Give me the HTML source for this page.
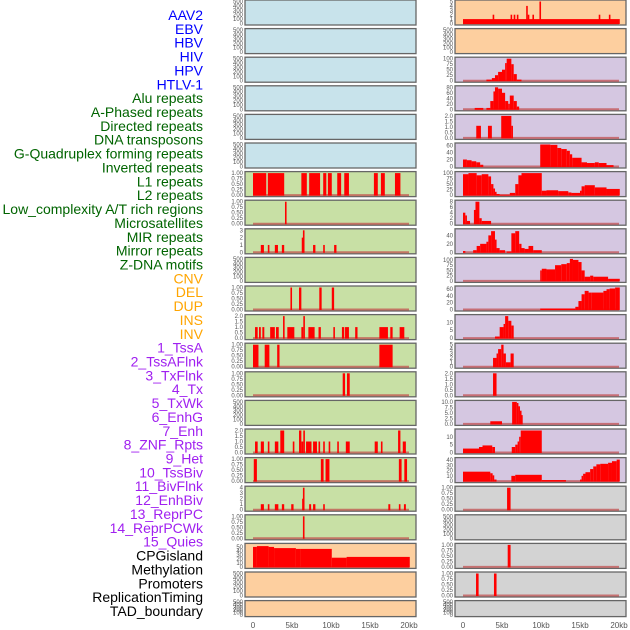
<!DOCTYPE html>
<html><head><meta charset="utf-8"><style>
html,body{margin:0;padding:0;background:#fff;}
svg{display:block;font-family:"Liberation Sans",sans-serif;}
</style></head><body>
<svg id="chart" width="630" height="630" viewBox="0 0 630 630"></svg>
<script>
// ===== data =====
const labels = ["AAV2","EBV","HBV","HIV","HPV","HTLV-1","Alu repeats","A-Phased repeats","Directed repeats","DNA transposons","G-Quadruplex forming repeats","Inverted repeats","L1 repeats","L2 repeats","Low_complexity A/T rich regions","Microsatellites","MIR repeats","Mirror repeats","Z-DNA motifs","CNV","DEL","DUP","INS","INV","1_TssA","2_TssAFlnk","3_TxFlnk","4_Tx","5_TxWk","6_EnhG","7_Enh","8_ZNF_Rpts","9_Het","10_TssBiv","11_BivFlnk","12_EnhBiv","13_ReprPC","14_ReprPCWk","15_Quies","CPGisland","Methylation","Promoters","ReplicationTiming","TAD_boundary"];
const labelColors = ["b","b","b","b","b","b","g","g","g","g","g","g","g","g","g","g","g","g","g","o","o","o","o","o","p","p","p","p","p","p","p","p","p","p","p","p","p","p","p","k","k","k","k","k"];
const xTicks = [0,5,10,15,20];
const xTickLabels = ["0","5kb","10kb","15kb","20kb"];
const leftBg = ["b","b","b","b","b","b","g","g","g","g","g","g","g","g","g","g","g","g","g","o","o","o"];
const rightBg = ["o","o","p","p","p","p","p","p","p","p","p","p","p","p","p","p","p","x","x","x","x","x"];
const leftMax = [500,500,500,500,500,500,1,1,3,500,1,2,1,1,500,2,1,4,1,55,500,500];
const rightMax = [5,500,100,80,2,63,100,8,52,105,65,14,5,2,10,14,42,1,500,1,1,500];

// bars: [start kb, end kb, value]
const L7 = [[0,1.7,1],[1.9,4.0,1],[6.2,6.9,1],[7.2,8.6,1],[9.0,9.4,1],[9.6,10.1,1],[10.8,11.3,1],[11.7,12.3,1],[15.5,16.0,1],[16.4,16.9,1],[18.2,18.9,1]];
const L8 = [[4.1,4.3,1]];
const L9 = [[1.0,1.4,1],[1.9,2.1,1],[2.8,3.2,1],[3.7,4.0,1],[6.25,6.4,2],[6.4,6.6,3],[7.7,8.0,1],[9.0,9.15,1],[10.4,10.7,1]];
const L11 = [[4.8,5.0,1],[5.9,6.2,1],[8.5,8.8,1],[10.1,10.4,1]];
const L12 = [[0.26,0.6,1],[0.77,1.0,1],[1.2,1.45,1],[2.2,2.8,1],[2.95,3.3,1],[3.85,4.0,2],[4.4,5.3,1],[6.2,6.45,1],[6.45,6.6,2],[7.1,7.9,1],[8.4,8.7,1],[10.3,10.5,1],[11.4,11.7,1],[11.8,12.3,1],[13.1,13.4,1],[16.2,17.3,1],[17.6,17.9,1],[18.8,19.4,1]];
const L13 = [[0,0.7,1],[1.5,2.1,1],[3.1,3.4,1],[16.2,17.9,1]];
const L14 = [[11.5,11.8,1],[12.05,12.4,1]];
const L16 = [[0.26,0.6,1],[1.0,1.4,1],[1.9,2.1,1],[2.8,3.25,1],[3.5,4.0,2],[5.1,5.3,1],[5.9,6.2,2],[6.2,6.45,1],[6.45,6.6,2],[6.8,7.5,1],[7.7,8.2,1],[8.4,8.6,1],[9.0,9.2,1],[9.7,9.9,1],[10.8,11.0,1],[11.9,12.4,1],[15.6,16.0,1],[16.4,16.6,1],[18.6,18.9,2],[19.2,19.6,1]];
const L17 = [[0.1,0.5,1],[8.7,9.05,1],[9.3,9.8,1],[18.7,19.05,1],[19.4,19.75,1]];
const L18 = [[1.0,1.4,1],[1.9,2.1,1],[2.8,3.25,1],[3.7,4.0,1],[4.9,5.2,1],[6.3,6.4,2],[6.4,6.6,4],[7.2,7.45,1],[7.7,8.0,1],[9.0,9.15,1],[17.35,17.6,1],[18.7,18.9,1],[19.35,19.6,1]];
const L19 = [[6.4,6.6,1]];
const L20 = [[0,0.5,50],[0.5,2.0,52],[2.0,2.7,50],[2.7,5.5,47],[5.5,6.1,45],[6.1,10.1,45],[10.1,12.0,23],[12.0,20.1,25]];

const R1 = [[0,20.1,1],[3.8,4.0,2],[6.1,6.3,2],[6.5,6.7,2],[6.9,7.1,2],[8.1,8.3,4],[8.3,8.5,2],[8.9,9.1,2],[9.8,10.0,5],[17.4,17.6,2],[18.7,18.9,2]];
const R3 = [[3.0,3.7,5],[3.7,4.1,12],[4.1,4.5,25],[4.5,5.0,40],[5.0,5.4,50],[5.4,5.6,80],[5.6,6.2,100],[6.2,6.5,75],[6.5,6.9,30],[6.9,7.5,5]];
const R4 = [[1.5,2.6,5],[3.0,3.5,5],[3.5,3.9,30],[3.9,4.1,65],[4.1,4.5,80],[4.5,5.0,75],[5.0,5.4,60],[5.4,5.8,30],[5.8,6.0,20],[6.0,6.5,50],[6.5,6.9,30],[6.9,7.2,10]];
const R5 = [[1.7,2.3,1.1],[3.2,3.7,1.1],[4.9,6.2,2],[6.2,6.4,1.1]];
const R6 = [[0,0.5,20],[0.5,1.1,18],[1.1,1.7,15],[1.7,2.2,12],[2.2,2.6,5],[9.9,11.2,63],[11.2,12.1,62],[12.1,12.6,53],[12.6,13.3,50],[13.3,13.7,45],[13.7,14.0,35],[14.0,15.2,25],[15.2,15.9,12],[15.9,16.9,10],[16.9,17.4,12],[17.4,18.4,10],[18.4,19.3,4]];
const R7 = [[0,0.7,95],[0.7,1.75,100],[1.75,2.4,90],[2.4,3.25,95],[3.25,3.6,85],[3.6,3.9,50],[3.9,4.1,30],[4.1,4.3,15],[4.3,4.7,5],[4.7,6.0,2],[6.0,6.7,10],[6.7,7.1,50],[7.1,7.5,90],[7.5,10.1,100],[10.1,10.7,20],[10.7,12.2,22],[12.2,13.5,18],[13.5,13.9,12],[13.9,15.0,10],[15.0,15.2,20],[15.2,15.6,40],[15.6,16.9,45],[16.9,18.4,35],[18.4,20.1,28]];
const R8 = [[0,0.3,4],[0.3,0.5,3],[0.5,0.9,1],[1.4,1.6,5],[1.6,2.1,8],[2.1,2.4,2],[2.4,3.6,1]];
const R9 = [[0,0.3,3],[1.3,1.75,5],[1.75,2.2,15],[2.2,3.0,20],[3.0,3.25,25],[3.25,3.6,40],[3.6,4.1,50],[4.1,4.3,30],[4.3,4.7,10],[4.7,5.4,5],[5.6,6.2,2],[6.2,6.7,45],[6.7,7.2,50],[7.2,7.5,20],[7.5,7.9,10],[7.9,8.4,8],[8.4,9.0,15],[9.0,10.1,5]];
const R10 = [[9.9,10.1,50],[10.1,10.7,58],[10.7,11.8,55],[11.8,12.6,75],[12.6,13.3,80],[13.3,13.7,85],[13.7,14.1,105],[14.1,14.8,100],[14.8,15.2,90],[15.2,15.6,50],[15.6,16.3,20],[16.3,16.7,25],[16.7,18.6,20],[18.6,20.1,10]];
const R11 = [[9.9,14.4,3],[14.4,14.8,8],[14.8,15.2,25],[15.2,15.6,45],[15.6,16.1,55],[16.1,16.5,50],[16.5,18.0,50],[18.0,18.4,55],[18.4,18.8,60],[18.8,19.5,62],[19.5,20.1,65]];
const R12 = [[4.1,4.7,1],[4.7,5.2,7],[5.2,5.4,9],[5.4,5.8,14],[5.8,6.2,11],[6.2,6.5,8]];
const R13 = [[3.85,4.3,2],[4.3,4.5,3],[4.5,4.9,4],[4.9,5.2,5],[5.2,5.5,3],[5.5,6.1,1],[6.1,6.5,3]];
const R14 = [[3.85,4.3,2]];
const R15 = [[3.5,5.0,1.2],[6.3,6.9,10],[6.9,7.1,9.5],[7.1,7.3,8],[7.3,7.45,6],[7.45,7.6,4]];
const R16 = [[0,2.05,2.5],[2.05,2.5,3.5],[2.5,3.75,4.5],[3.75,4.1,3.5],[6.25,6.7,3.5],[6.7,7.0,5],[7.0,7.2,7],[7.2,7.4,10],[7.4,10.1,14]];
const R17 = [[0,3.5,18],[3.5,3.8,15],[3.8,4.0,11],[4.0,4.3,3],[6.2,6.7,10],[6.7,10.1,12],[10.1,13.2,2],[15.0,15.2,3],[15.2,15.4,10],[15.4,15.7,14],[15.7,16.3,17],[16.3,16.7,23],[16.7,17.1,28],[17.1,17.6,32],[17.6,18.6,33],[18.6,19.1,35],[19.1,19.7,38],[19.7,20.1,41]];
const R18 = [[5.65,6.1,1]];
const R20 = [[5.73,6.1,1]];
const R21 = [[1.67,2.0,1],[3.97,4.3,1]];

const leftSeries = [[],[],[],[],[],[],L7,L8,L9,[],L11,L12,L13,L14,[],L16,L17,L18,L19,L20,[],[]];
const rightSeries = [R1,[],R3,R4,R5,R6,R7,R8,R9,R10,R11,R12,R13,R14,R15,R16,R17,R18,[],R20,R21,[]];

const tickSets = {
  500:[[0,100,200,300,400,500],0], 1:[[0,0.25,0.5,0.75,1],2], 2:[[0,0.5,1,1.5,2],1],
  3:[[0,1,2,3],0], 4:[[0,1,2,3,4],0], 5:[[0,1,2,3,4,5],0], 100:[[0,25,50,75,100],0],
  105:[[0,25,50,75,100],0], 80:[[0,20,40,60,80],0], 63:[[0,20,40,60],0], 65:[[0,20,40,60],0],
  8:[[0,2,4,6,8],0], 52:[[0,20,40],0], 14:[[0,5,10],0], 10:[[0,2.5,5,7.5,10],1],
  42:[[0,10,20,30,40],0], 55:[[0,10,20,30,40,50],0]
};
// ===== drawing =====
const NS="http://www.w3.org/2000/svg";
const svg=document.getElementById('chart');
function mk(tag,attrs,parent){const e=document.createElementNS(NS,tag);for(const k in attrs)e.setAttribute(k,attrs[k]);(parent||svg).appendChild(e);return e;}
const colMap={b:"#0000ff",g:"#006400",o:"#ffa500",p:"#a020f0",k:"#000000"};
const bgMap={b:"#c8e3eb",g:"#c8e0a5",o:"#fdcf9f",p:"#d5c7e1",x:"#d3d3d3"};

labels.forEach((t,i)=>{
  const e=mk('text',{x:203,y:15+i*13.86+5,'text-anchor':'end','font-size':14,fill:colMap[labelColors[i]]});
  e.textContent=t;
  
  
});

const cols=[{x0:245,x1:416,z:253,bg:leftBg,mx:leftMax,ser:leftSeries,side:'left'},
            {x0:455,x1:626,z:463,bg:rightBg,mx:rightMax,ser:rightSeries,side:'right'}];
const pxPerKb=7.8;
for(let r=0;r<22;r++){
  const top=r*28.6, h=(r===21)?16:25;
  cols.forEach(c=>{
    const xs=v=>c.z+v*pxPerKb;
    const g=mk('g',{});
    
    
    mk('rect',{x:c.x0,y:top,width:c.x1-c.x0,height:h,fill:bgMap[c.bg[r]],stroke:'#666',"stroke-width":1.3},g);
    const ymax=c.mx[r];
    const y0=top+h-1.5, y1=top+1.5;
    const ys=v=>y0-(v/ymax)*(y0-y1);
    const bars=c.ser[r];
    if(bars.length){
      mk('line',{x1:xs(0),x2:xs(20),y1:y0,y2:y0,stroke:'#c04848','stroke-width':2,'stroke-opacity':0.7},g);
    }
    bars.forEach(b=>{
      const x=xs(b[0]);const w=Math.max(1.6,xs(b[1])-x);
      const e=mk('rect',{x:x,y:ys(b[2]),width:w,height:y0-ys(b[2])+0.5,fill:'#ff0000'},g);
      
      
    });
    const ts=tickSets[ymax];
    if(ts){
      ts[0].forEach(v=>{
        const e=mk('text',{x:c.x0-2,y:ys(v)+2,'text-anchor':'end','font-size':6,fill:'#555'},g);
        e.textContent=v.toFixed(ts[1]);
        
        
      });
    }
  });
}
cols.forEach(c=>{
  xTicks.forEach((v,i)=>{
    const e=mk('text',{x:c.z+v*pxPerKb,y:628,'text-anchor':'middle','font-size':8,fill:'#555'});
    e.textContent=xTickLabels[i];
    
    
  });
});
</script>
</body></html>
